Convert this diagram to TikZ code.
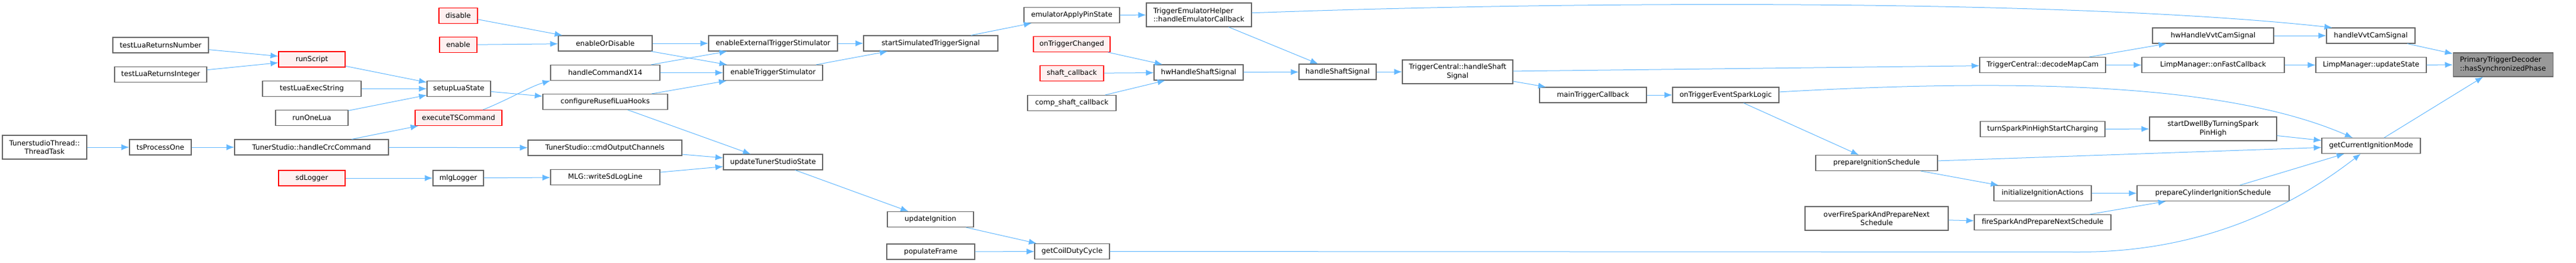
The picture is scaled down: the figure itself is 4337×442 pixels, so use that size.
\documentclass[tikz,border=0pt]{standalone}
\usepackage{fontspec}
\setmainfont{DejaVu Sans}
\usetikzlibrary{arrows.meta}
\definecolor{edgeblue}{HTML}{63B8FF}
\definecolor{boxgray}{HTML}{666666}
\definecolor{redfill}{HTML}{FFF0F0}
\definecolor{rootfill}{HTML}{999999}
\begin{document}
\begin{tikzpicture}[x=1pt, y=-1pt,
    fn/.style={draw=boxgray, line width=1.1pt, fill=white, inner xsep=2pt,
        inner ysep=0pt, minimum height=26pt, align=center,
        font=\fontsize{11.9pt}{14.6pt}\selectfont},
    fnred/.style={fn, draw=red, fill=redfill},
    fnroot/.style={fn, fill=rootfill},
    twoline/.style={minimum height=40pt},
    call/.style={draw=edgeblue, line width=1pt,
        -{Latex[length=13pt, width=10pt]}}]
    \useasboundingbox (0, 0) rectangle (4337, 442);
    \node[fn, twoline, minimum width=142pt] (ttask) at (75, 248)
        {TunerstudioThread::\\ThreadTask};
    \node[fn, minimum width=104pt] (tsone) at (270, 248) {tsProcessOne};
    \node[fn, minimum width=161pt] (lnum) at (270.5, 76)
        {testLuaReturnsNumber};
    \node[fn, minimum width=155pt] (lint) at (270.5, 125.5)
        {testLuaReturnsInteger};
    \node[fnred, minimum width=112pt] (runscript) at (525, 100) {runScript};
    \node[fn, minimum width=166pt] (lexec) at (525, 149.5)
        {testLuaExecString};
    \node[fn, minimum width=122pt] (runone) at (525, 198.5) {runOneLua};
    \node[fn, minimum width=259pt] (crc) at (524.5, 248)
        {TunerStudio::handleCrcCommand};
    \node[fnred, minimum width=112pt] (sdlog) at (525, 300) {sdLogger};
    \node[fnred, minimum width=65pt] (disable) at (771.5, 26.5) {disable};
    \node[fnred, minimum width=63pt] (enable) at (771.5, 75.5) {enable};
    \node[fn, minimum width=107pt] (setup) at (772.5, 149.5) {setupLuaState};
    \node[fnred, minimum width=146pt] (exects) at (772, 198.5)
        {executeTSCommand};
    \node[fn, minimum width=85pt] (mlg) at (771.5, 300) {mlgLogger};
    \node[fn, minimum width=158pt] (enordis) at (1019, 73) {enableOrDisable};
    \node[fn, minimum width=184pt] (x14) at (1019, 122.5)
        {handleCommandX14};
    \node[fn, minimum width=210pt] (hooks) at (1019, 171.5)
        {configureRusefiLuaHooks};
    \node[fn, minimum width=259pt] (cmdout) at (1018.5, 249)
        {TunerStudio::cmdOutputChannels};
    \node[fn, minimum width=184pt] (sdline) at (1019, 298.5)
        {MLG::writeSdLogLine};
    \node[fn, minimum width=217pt] (extstim) at (1301.5, 73)
        {enableExternalTriggerStimulator};
    \node[fn, minimum width=167pt] (stim) at (1301.5, 122.5)
        {enableTriggerStimulator};
    \node[fn, minimum width=167pt] (tsstate) at (1301.5, 273)
        {updateTunerStudioState};
    \node[fn, minimum width=226pt] (simsig) at (1567, 73)
        {startSimulatedTriggerSignal};
    \node[fn, minimum width=145pt] (updign) at (1566.5, 369.5)
        {updateIgnition};
    \node[fn, minimum width=148pt] (popframe) at (1567, 424) {populateFrame};
    \node[fn, minimum width=161pt] (pinstate) at (1804.5, 25.5)
        {emulatorApplyPinState};
    \node[fnred, minimum width=129pt] (trigchg) at (1804.5, 74.5)
        {onTriggerChanged};
    \node[fnred, minimum width=107pt] (shaftcb) at (1804.5, 123.5)
        {shaft\_callback};
    \node[fn, minimum width=149pt] (compcb) at (1804.5, 173.5)
        {comp\_shaft\_callback};
    \node[fn, minimum width=126pt] (coilduty) at (1805, 423.5)
        {getCoilDutyCycle};
    \node[fn, twoline, align=left, minimum width=177pt] (emucb)
        at (2018.5, 25) {TriggerEmulatorHelper\\::handleEmulatorCallback};
    \node[fn, minimum width=150pt] (hwshaft) at (2018, 122)
        {hwHandleShaftSignal};
    \node[fn, minimum width=130pt] (shaftsig) at (2252, 121)
        {handleShaftSignal};
    \node[fn, twoline, minimum width=186pt] (tcshaft) at (2454, 121)
        {TriggerCentral::handleShaft\\Signal};
    \node[fn, minimum width=180pt] (maincb) at (2682, 160)
        {mainTriggerCallback};
    \node[fn, minimum width=179pt] (sparklogic) at (2905.5, 160)
        {onTriggerEventSparkLogic};
    \node[fn, minimum width=205pt] (prepign) at (3159.5, 274.5)
        {prepareIgnitionSchedule};
    \node[fn, twoline, minimum width=241pt] (overfire) at (3159.5, 368)
        {overFireSparkAndPrepareNext\\Schedule};
    \node[fn, minimum width=212pt] (mapcam) at (3439, 109.5)
        {TriggerCentral::decodeMapCam};
    \node[fn, minimum width=210pt] (turnspark) at (3439, 217.5)
        {turnSparkPinHighStartCharging};
    \node[fn, minimum width=164pt] (initign) at (3439, 325.5)
        {initializeIgnitionActions};
    \node[fn, minimum width=230pt] (firespark) at (3439, 374.5)
        {fireSparkAndPrepareNextSchedule};
    \node[fn, minimum width=204pt] (hwvvt) at (3726, 60)
        {hwHandleVvtCamSignal};
    \node[fn, minimum width=240pt] (fastcb) at (3726, 109.5)
        {LimpManager::onFastCallback};
    \node[fn, twoline, minimum width=214pt] (dwell) at (3726, 217)
        {startDwellByTurningSpark\\PinHigh};
    \node[fn, minimum width=256pt] (prepcyl) at (3726, 325.5)
        {prepareCylinderIgnitionSchedule};
    \node[fn, minimum width=149pt] (vvtsig) at (3991.5, 60)
        {handleVvtCamSignal};
    \node[fn, minimum width=186pt] (updstate) at (3992, 109.5)
        {LimpManager::updateState};
    \node[fn, minimum width=166pt] (ignmode) at (3992, 245.5)
        {getCurrentIgnitionMode};
    \node[fnroot, twoline, align=left, minimum width=168pt] (root)
        at (4214, 109) {PrimaryTriggerDecoder\\::hasSynchronizedPhase};
    \draw[call] (lnum) -- (runscript);
    \draw[call] (lint) -- (runscript);
    \draw[call] (runscript) -- (setup);
    \draw[call] (lexec) -- (setup);
    \draw[call] (runone) -- (setup);
    \draw[call] (ttask) -- (tsone);
    \draw[call] (tsone) -- (crc);
    \draw[call] (crc) -- (exects);
    \draw[call] (crc) -- (cmdout);
    \draw[call] (sdlog) -- (mlg);
    \draw[call] (mlg) -- (sdline);
    \draw[call] (disable) -- (enordis);
    \draw[call] (enable) -- (enordis);
    \draw[call] (setup) -- (hooks);
    \draw[call] ([xshift=41pt]exects.north) .. controls +(45, -18)
        and +(-35, 10) .. (x14.south west);
    \draw[call] (enordis) -- (extstim);
    \draw[call] (enordis) -- (stim);
    \draw[call] (x14) -- (extstim);
    \draw[call] (x14) -- (stim);
    \draw[call] (hooks) -- (stim);
    \draw[call] (hooks) -- (tsstate);
    \draw[call] (cmdout) -- (tsstate);
    \draw[call] (sdline) -- (tsstate);
    \draw[call] (extstim) -- (simsig);
    \draw[call] (stim) -- (simsig);
    \draw[call] (tsstate) -- (updign);
    \draw[call] (updign) -- (coilduty);
    \draw[call] (popframe) -- (coilduty);
    \draw[call] (simsig) -- (pinstate);
    \draw[call] (pinstate) -- (emucb);
    \draw[call] (trigchg) -- (hwshaft);
    \draw[call] (shaftcb) -- (hwshaft);
    \draw[call] (compcb) -- (hwshaft);
    \draw[call] (emucb) -- (shaftsig);
    \draw[call] (emucb) .. controls (2700, 0) and (3500, 0)
        .. ([xshift=10pt]vvtsig.north west);
    \draw[call] (hwshaft) -- (shaftsig);
    \draw[call] (shaftsig) -- (tcshaft);
    \draw[call] (tcshaft) -- (mapcam);
    \draw[call] (tcshaft) -- (maincb);
    \draw[call] (maincb) -- (sparklogic);
    \draw[call] (sparklogic) .. controls (3400, 132) and (3750, 140)
        .. (ignmode);
    \draw[call] (sparklogic) -- (prepign);
    \draw[call] (prepign) -- (ignmode);
    \draw[call] (prepign) -- (initign);
    \draw[call] (overfire) -- (firespark);
    \draw[call] (firespark) -- (prepcyl);
    \draw[call] (initign) -- (prepcyl);
    \draw[call] (turnspark) -- (dwell);
    \draw[call] (mapcam) -- (hwvvt);
    \draw[call] (mapcam) -- (fastcb);
    \draw[call] (hwvvt) -- (vvtsig);
    \draw[call] (fastcb) -- (updstate);
    \draw[call] (dwell) -- (ignmode);
    \draw[call] (prepcyl) -- (ignmode);
    \draw[call] (coilduty) -- (3500, 424.5) .. controls (3720, 424.5)
        and (3870, 340) .. (ignmode);
    \draw[call] (vvtsig) -- (root);
    \draw[call] (updstate) -- (root);
    \draw[call] (ignmode) -- (root);
\end{tikzpicture}
\end{document}
